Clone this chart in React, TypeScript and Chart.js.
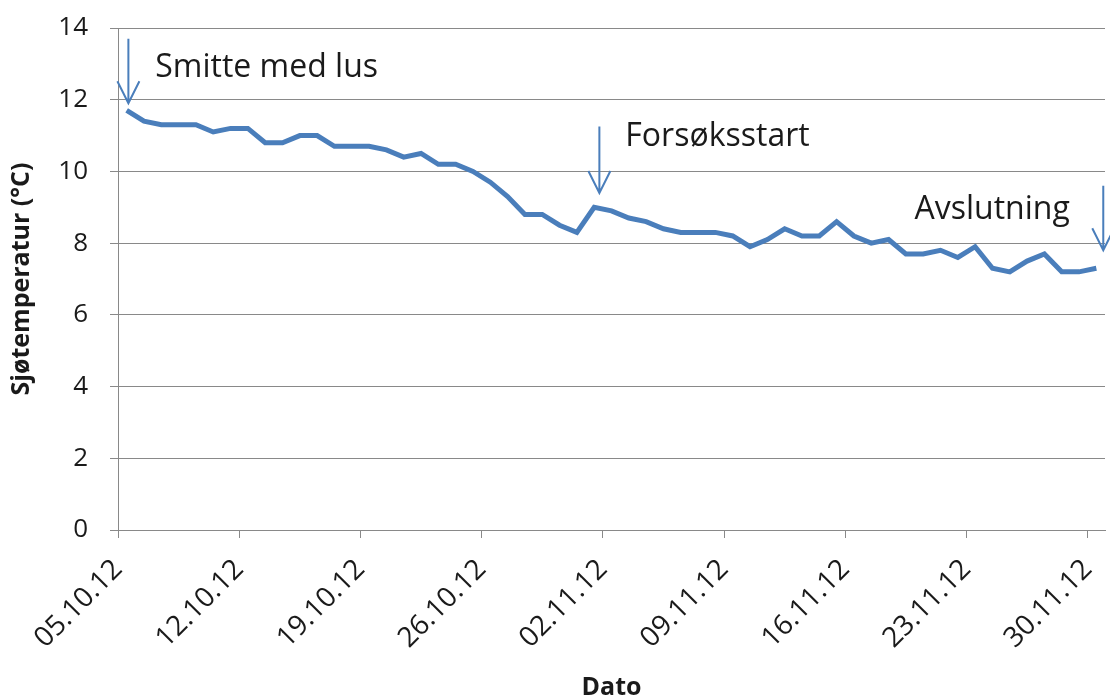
import { useEffect, useRef } from 'react';
import { Chart, registerables } from 'chart.js';

Chart.register(...registerables);

// Daily sea temperature (°C), one value per day starting 05.10.12
const temperatures = [
  11.7, 11.4, 11.3, 11.3, 11.3, 11.1, 11.2, 11.2, 10.8, 10.8,
  11.0, 11.0, 10.7, 10.7, 10.7, 10.6, 10.4, 10.5, 10.2, 10.2,
  10.0, 9.7, 9.3, 8.8, 8.8, 8.5, 8.3, 9.0, 8.9, 8.7,
  8.6, 8.4, 8.3, 8.3, 8.3, 8.2, 7.9, 8.1, 8.4, 8.2,
  8.2, 8.6, 8.2, 8.0, 8.1, 7.7, 7.7, 7.8, 7.6, 7.9,
  7.3, 7.2, 7.5, 7.7, 7.2, 7.2, 7.3,
];

// Tick positions (days since 05.10.12) and their labels
const tickDays = [0, 7, 14, 21, 28, 35, 42, 49, 56];
const tickLabels = [
  '05.10.12', '12.10.12', '19.10.12', '26.10.12', '02.11.12',
  '09.11.12', '16.11.12', '23.11.12', '30.11.12',
];

// Annotations: label text, arrow day, arrow top/bottom (°C), label anchor (day, °C)
const annotationTexts = ['Smitte med lus', 'Forsøksstart', 'Avslutning'];
const arrowDays = [0.6, 27.8, 56.9];
const arrowTops = [13.7, 11.25, 9.6];
const arrowBottoms = [11.9, 9.4, 7.8];
const labelDays = [2.15, 29.3, 46.0];
const labelValues = [12.88, 10.96, 8.92];

const LINE_COLOR = '#4a7ebb';
const GRID_COLOR = '#898989';
const FONT = "'Open Sans', 'DejaVu Sans', sans-serif";

const annotationPlugin = {
  id: 'arrows',
  afterDatasetsDraw(chart: any) {
    const { ctx, scales } = chart;
    const xs = scales.x;
    const ys = scales.y;
    ctx.save();
    for (let i = 0; i < annotationTexts.length; i++) {
      const x = xs.getPixelForValue(arrowDays[i]);
      const y1 = ys.getPixelForValue(arrowTops[i]);
      const y2 = ys.getPixelForValue(arrowBottoms[i]);
      ctx.strokeStyle = LINE_COLOR;
      ctx.lineWidth = 2;
      ctx.beginPath();
      ctx.moveTo(x, y1);
      ctx.lineTo(x, y2);
      ctx.moveTo(x - 11, y2 - 22);
      ctx.lineTo(x, y2);
      ctx.lineTo(x + 11, y2 - 22);
      ctx.stroke();

      ctx.fillStyle = '#1a1a1a';
      ctx.font = `32px ${FONT}`;
      ctx.textAlign = 'left';
      ctx.textBaseline = 'middle';
      ctx.fillText(
        annotationTexts[i],
        xs.getPixelForValue(labelDays[i]),
        ys.getPixelForValue(labelValues[i])
      );
    }
    ctx.restore();
  },
};

export default function App() {
  const canvasRef = useRef<HTMLCanvasElement | null>(null);

  useEffect(() => {
    if (!canvasRef.current) return;
    const points = temperatures.map((t, i) => ({ x: i + 0.5, y: t }));
    const chart = new Chart(canvasRef.current, {
      type: 'line',
      data: {
        datasets: [
          {
            data: points,
            borderColor: LINE_COLOR,
            borderWidth: 5,
            pointRadius: 0,
            tension: 0,
            fill: false,
          },
        ],
      },
      options: {
        animation: false,
        responsive: true,
        maintainAspectRatio: false,
        layout: { padding: { left: 6, right: 5, top: 28, bottom: 0 } },
        plugins: {
          legend: { display: false },
          tooltip: { enabled: false },
        },
        scales: {
          x: {
            type: 'linear',
            min: 0,
            max: temperatures.length,
            afterBuildTicks(scale: any) {
              scale.ticks = tickDays.map((v) => ({ value: v }));
            },
            afterFit(scale: any) {
              scale.height = 169;
              scale.paddingLeft = 0;
              scale.paddingRight = 0;
            },
            grid: {
              drawOnChartArea: false,
              drawTicks: true,
              tickLength: 8,
              color: GRID_COLOR,
            },
            border: { color: GRID_COLOR, width: 1 },
            ticks: {
              autoSkip: false,
              maxRotation: 45,
              minRotation: 45,
              padding: 15,
              color: '#1a1a1a',
              font: { family: FONT, size: 28 },
              callback(value: any) {
                const idx = tickDays.indexOf(Number(value));
                return idx >= 0 ? tickLabels[idx] : '';
              },
            },
            title: {
              display: true,
              text: 'Dato',
              color: '#1a1a1a',
              font: { family: FONT, size: 25, weight: 'bold', lineHeight: 1 },
              padding: { top: 0, bottom: -1 },
            },
          },
          y: {
            min: 0,
            max: 14,
            afterFit(scale: any) {
              scale.width = 112;
              scale.paddingTop = 0;
              scale.paddingBottom = 0;
            },
            grid: {
              drawTicks: true,
              tickLength: 8,
              color: GRID_COLOR,
            },
            border: { color: GRID_COLOR, width: 1 },
            ticks: {
              stepSize: 2,
              padding: 22,
              color: '#1a1a1a',
              font: { family: FONT, size: 26 },
            },
            title: {
              display: true,
              text: 'Sjøtemperatur (°C)',
              color: '#1a1a1a',
              font: { family: FONT, size: 25, weight: 'bold' },
              padding: { top: 1, bottom: 0 },
            },
          },
        },
      },
      plugins: [annotationPlugin],
    });
    return () => chart.destroy();
  }, []);

  return (
    <div style={{ position: 'absolute', left: 0, top: 0, width: 1110, height: 699 }}>
      <canvas ref={canvasRef} />
    </div>
  );
}
